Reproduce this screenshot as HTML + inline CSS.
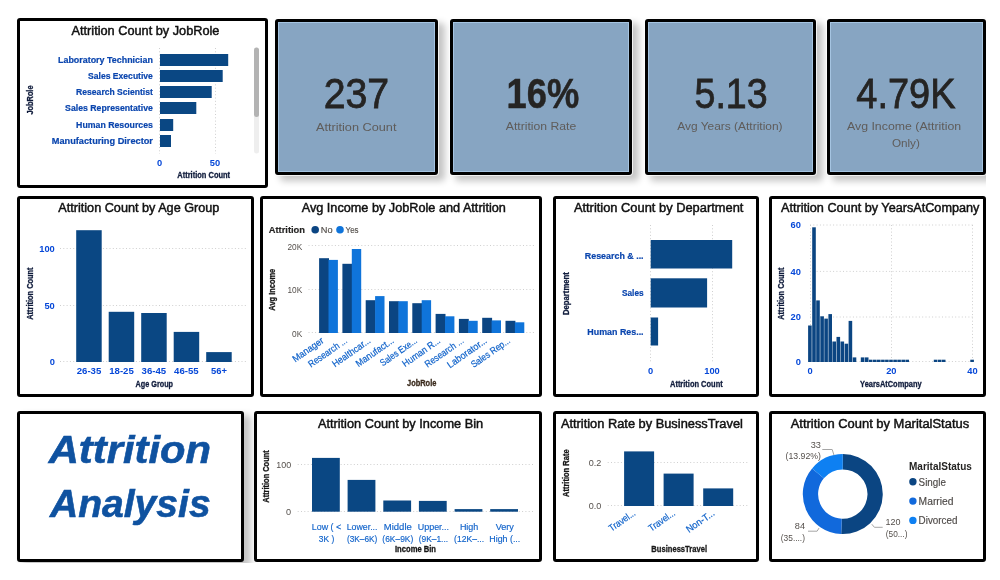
<!DOCTYPE html><html><head><meta charset="utf-8"><title>Attrition Analysis</title><style>
html,body{margin:0;padding:0;background:#fff;}
body{width:1000px;height:580px;overflow:hidden;position:relative;font-family:"Liberation Sans",sans-serif;}
#clip{position:absolute;left:0;top:0;width:986px;height:563px;overflow:hidden;}
.c{position:absolute;box-sizing:border-box;border:3px solid #000;border-radius:3px;background:#fff;}
.k{background:#87a5c2;box-shadow:inset 0 0 0 1px rgba(190,222,252,.55),0 0 0 1px rgba(255,255,255,.75),6px 5px 7px 1px rgba(0,0,0,.23);}
.t{box-shadow:6px 5px 7px 1px rgba(0,0,0,.23);}
svg{position:absolute;left:0;top:0;}
svg text{font-family:"Liberation Sans",sans-serif;}
.g{stroke:#cfcfcf;stroke-width:1;stroke-dasharray:1 2.3;}
</style></head><body><div id="clip">
<div class="c t" style="left:17px;top:411px;width:226.5px;height:151px"></div>
<div class="c" style="left:17px;top:18px;width:251px;height:170px"></div>
<div class="c" style="left:17px;top:196px;width:237px;height:201px"></div>
<div class="c" style="left:260px;top:196px;width:282px;height:201px"></div>
<div class="c" style="left:553px;top:196px;width:206px;height:201px"></div>
<div class="c" style="left:769px;top:196px;width:217px;height:201px"></div>
<div class="c" style="left:254px;top:411px;width:288px;height:151px"></div>
<div class="c" style="left:553px;top:411px;width:206px;height:151px"></div>
<div class="c" style="left:769px;top:411px;width:217px;height:151px"></div>
<div class="c k" style="left:275px;top:19px;width:163px;height:156px"></div>
<div class="c k" style="left:450px;top:19px;width:182px;height:156px"></div>
<div class="c k" style="left:644.5px;top:19px;width:171.5px;height:156px"></div>
<div class="c k" style="left:827px;top:19px;width:159px;height:156px"></div>
</div>
<svg width="1000" height="580" viewBox="0 0 1000 580">
<text x="71.5" y="34.6" font-size="12.3" fill="#111111" textLength="147.9" lengthAdjust="spacingAndGlyphs" stroke="#111111" stroke-width="0.45">Attrition Count by JobRole</text>
<line x1="159.5" y1="48.0" x2="159.5" y2="154.0" class="g"/>
<line x1="215.5" y1="48.0" x2="215.5" y2="154.0" class="g"/>
<rect x="160.0" y="54.0" width="68.2" height="12.0" fill="#0a4783"/>
<text x="152.9" y="63.4" font-size="9.9" font-weight="bold" text-anchor="end" fill="#0a45ae" textLength="94.9" lengthAdjust="spacingAndGlyphs" stroke="#0a45ae" stroke-width="0.2">Laboratory Technician</text>
<rect x="160.0" y="70.0" width="62.7" height="12.0" fill="#0a4783"/>
<text x="152.9" y="79.4" font-size="9.9" font-weight="bold" text-anchor="end" fill="#0a45ae" textLength="64.8" lengthAdjust="spacingAndGlyphs" stroke="#0a45ae" stroke-width="0.2">Sales Executive</text>
<rect x="160.0" y="86.0" width="51.7" height="12.0" fill="#0a4783"/>
<text x="152.9" y="95.4" font-size="9.9" font-weight="bold" text-anchor="end" fill="#0a45ae" textLength="76.8" lengthAdjust="spacingAndGlyphs" stroke="#0a45ae" stroke-width="0.2">Research Scientist</text>
<rect x="160.0" y="102.0" width="36.3" height="12.0" fill="#0a4783"/>
<text x="152.9" y="111.4" font-size="9.9" font-weight="bold" text-anchor="end" fill="#0a45ae" textLength="87.8" lengthAdjust="spacingAndGlyphs" stroke="#0a45ae" stroke-width="0.2">Sales Representative</text>
<rect x="160.0" y="119.0" width="13.2" height="12.0" fill="#0a4783"/>
<text x="152.9" y="128.4" font-size="9.9" font-weight="bold" text-anchor="end" fill="#0a45ae" textLength="76.8" lengthAdjust="spacingAndGlyphs" stroke="#0a45ae" stroke-width="0.2">Human Resources</text>
<rect x="160.0" y="135.0" width="11.0" height="12.0" fill="#0a4783"/>
<text x="152.9" y="144.4" font-size="9.9" font-weight="bold" text-anchor="end" fill="#0a45ae" textLength="101.1" lengthAdjust="spacingAndGlyphs" stroke="#0a45ae" stroke-width="0.2">Manufacturing Director</text>
<text x="159.7" y="166.0" font-size="9.3" font-weight="bold" text-anchor="middle" fill="#0648d8">0</text>
<text x="215.0" y="166.0" font-size="9.3" font-weight="bold" text-anchor="middle" fill="#0648d8">50</text>
<text x="177.3" y="178.0" font-size="8.5" font-weight="bold" fill="#101c3c" textLength="52.8" lengthAdjust="spacingAndGlyphs" stroke="#101c3c" stroke-width="0.3">Attrition Count</text>
<text x="33.0" y="100.0" font-size="8.5" font-weight="bold" text-anchor="middle" fill="#101c3c" textLength="29.0" lengthAdjust="spacingAndGlyphs" transform="rotate(-90 33.0 100.0)" stroke="#101c3c" stroke-width="0.3">JobRole</text>
<rect x="254.0" y="47.5" width="5.0" height="106.0" fill="#eeeeee" rx="2.5"/>
<rect x="254.0" y="47.5" width="5.0" height="69.5" fill="#b3b3b3" rx="2.5"/>
<text x="356.4" y="108.3" font-size="42.5" text-anchor="middle" fill="#252423" textLength="65.5" lengthAdjust="spacingAndGlyphs" stroke="#252423" stroke-width="0.8">237</text>
<text x="356.2" y="130.6" font-size="11.2" text-anchor="middle" fill="#5f5c5a" textLength="80.5" lengthAdjust="spacingAndGlyphs">Attrition Count</text>
<text x="542.9" y="108.3" font-size="42.5" font-weight="bold" text-anchor="middle" fill="#252423" textLength="72.7" lengthAdjust="spacingAndGlyphs" stroke="#252423" stroke-width="0.5">16%</text>
<text x="541.0" y="129.9" font-size="11.2" text-anchor="middle" fill="#5f5c5a" textLength="70.5" lengthAdjust="spacingAndGlyphs">Attrition Rate</text>
<text x="731.1" y="108.3" font-size="42.5" text-anchor="middle" fill="#252423" textLength="73.1" lengthAdjust="spacingAndGlyphs" stroke="#252423" stroke-width="0.8">5.13</text>
<text x="729.9" y="129.9" font-size="11.2" text-anchor="middle" fill="#5f5c5a" textLength="105.3" lengthAdjust="spacingAndGlyphs">Avg Years (Attrition)</text>
<text x="905.9" y="108.3" font-size="42.5" text-anchor="middle" fill="#252423" textLength="99.1" lengthAdjust="spacingAndGlyphs" stroke="#252423" stroke-width="0.8">4.79K</text>
<text x="904.1" y="129.9" font-size="11.2" text-anchor="middle" fill="#5f5c5a" textLength="114.2" lengthAdjust="spacingAndGlyphs">Avg Income (Attrition</text>
<text x="905.9" y="146.7" font-size="11.2" text-anchor="middle" fill="#5f5c5a" textLength="28.0" lengthAdjust="spacingAndGlyphs">Only)</text>
<text x="58.3" y="212.2" font-size="12.3" fill="#111111" textLength="161.1" lengthAdjust="spacingAndGlyphs" stroke="#111111" stroke-width="0.45">Attrition Count by Age Group</text>
<line x1="60.0" y1="361.5" x2="248.0" y2="361.5" class="g"/>
<text x="54.8" y="365.1" font-size="9.3" font-weight="bold" text-anchor="end" fill="#0648d8">0</text>
<line x1="60.0" y1="305.5" x2="248.0" y2="305.5" class="g"/>
<text x="54.8" y="308.6" font-size="9.3" font-weight="bold" text-anchor="end" fill="#0648d8">50</text>
<line x1="60.0" y1="248.5" x2="248.0" y2="248.5" class="g"/>
<text x="54.8" y="252.1" font-size="9.3" font-weight="bold" text-anchor="end" fill="#0648d8">100</text>
<rect x="76.2" y="230.2" width="25.5" height="131.8" fill="#0a4783"/>
<text x="89.0" y="373.9" font-size="9.5" font-weight="bold" text-anchor="middle" fill="#0648d8" textLength="24.6" lengthAdjust="spacingAndGlyphs">26-35</text>
<rect x="108.7" y="311.8" width="25.5" height="50.2" fill="#0a4783"/>
<text x="121.5" y="373.9" font-size="9.5" font-weight="bold" text-anchor="middle" fill="#0648d8" textLength="24.6" lengthAdjust="spacingAndGlyphs">18-25</text>
<rect x="141.2" y="313.0" width="25.5" height="49.0" fill="#0a4783"/>
<text x="153.9" y="373.9" font-size="9.5" font-weight="bold" text-anchor="middle" fill="#0648d8" textLength="24.6" lengthAdjust="spacingAndGlyphs">36-45</text>
<rect x="173.7" y="331.9" width="25.5" height="30.1" fill="#0a4783"/>
<text x="186.4" y="373.9" font-size="9.5" font-weight="bold" text-anchor="middle" fill="#0648d8" textLength="24.6" lengthAdjust="spacingAndGlyphs">46-55</text>
<rect x="206.2" y="352.1" width="25.5" height="9.9" fill="#0a4783"/>
<text x="218.9" y="373.9" font-size="9.5" font-weight="bold" text-anchor="middle" fill="#0648d8" textLength="16.0" lengthAdjust="spacingAndGlyphs">56+</text>
<text x="154.3" y="386.8" font-size="8.5" font-weight="bold" text-anchor="middle" fill="#101c3c" textLength="37.5" lengthAdjust="spacingAndGlyphs" stroke="#101c3c" stroke-width="0.3">Age Group</text>
<text x="32.6" y="293.6" font-size="8.5" font-weight="bold" text-anchor="middle" fill="#101c3c" textLength="52.4" lengthAdjust="spacingAndGlyphs" transform="rotate(-90 32.6 293.6)" stroke="#101c3c" stroke-width="0.3">Attrition Count</text>
<text x="301.7" y="212.2" font-size="12.3" fill="#111111" textLength="204.2" lengthAdjust="spacingAndGlyphs" stroke="#111111" stroke-width="0.45">Avg Income by JobRole and Attrition</text>
<text x="268.7" y="232.8" font-size="9.2" font-weight="bold" fill="#252423" textLength="36.3" lengthAdjust="spacingAndGlyphs" stroke="#252423" stroke-width="0.15">Attrition</text>
<circle cx="315.2" cy="229.8" r="3.8" fill="#0b4582"/>
<text x="320.8" y="232.8" font-size="9.2" fill="#55504c" textLength="11.8" lengthAdjust="spacingAndGlyphs" stroke="#55504c" stroke-width="0.15">No</text>
<circle cx="340" cy="229.8" r="3.8" fill="#0f74da"/>
<text x="345.6" y="232.8" font-size="9.2" fill="#55504c" textLength="13.0" lengthAdjust="spacingAndGlyphs" stroke="#55504c" stroke-width="0.15">Yes</text>
<line x1="308.5" y1="332.5" x2="534.0" y2="332.5" class="g"/>
<text x="302.2" y="336.9" font-size="9.2" text-anchor="end" fill="#55504c" textLength="10.2" lengthAdjust="spacingAndGlyphs">0K</text>
<line x1="308.5" y1="289.5" x2="534.0" y2="289.5" class="g"/>
<text x="302.2" y="293.4" font-size="9.2" text-anchor="end" fill="#55504c" textLength="14.8" lengthAdjust="spacingAndGlyphs">10K</text>
<line x1="308.5" y1="245.5" x2="534.0" y2="245.5" class="g"/>
<text x="302.2" y="249.9" font-size="9.2" text-anchor="end" fill="#55504c" textLength="14.8" lengthAdjust="spacingAndGlyphs">20K</text>
<rect x="319.1" y="258.2" width="9.9" height="74.8" fill="#0b4582"/>
<rect x="328.5" y="259.9" width="9.4" height="73.1" fill="#0f74da"/>
<text x="324.6" y="342.0" font-size="9.6" text-anchor="end" fill="#0f62ca" textLength="35.8" lengthAdjust="spacingAndGlyphs" transform="rotate(-35 324.6 342.0)" stroke="#0f62ca" stroke-width="0.2">Manager</text>
<rect x="342.4" y="263.8" width="9.9" height="69.2" fill="#0b4582"/>
<rect x="351.8" y="249.0" width="9.4" height="84.0" fill="#0f74da"/>
<text x="347.9" y="342.0" font-size="9.6" text-anchor="end" fill="#0f62ca" textLength="45.0" lengthAdjust="spacingAndGlyphs" transform="rotate(-35 347.9 342.0)" stroke="#0f62ca" stroke-width="0.2">Research ...</text>
<rect x="365.7" y="300.2" width="9.9" height="32.8" fill="#0b4582"/>
<rect x="375.1" y="296.1" width="9.4" height="36.9" fill="#0f74da"/>
<text x="371.2" y="342.0" font-size="9.6" text-anchor="end" fill="#0f62ca" textLength="44.3" lengthAdjust="spacingAndGlyphs" transform="rotate(-35 371.2 342.0)" stroke="#0f62ca" stroke-width="0.2">Healthcar...</text>
<rect x="389.0" y="301.2" width="9.9" height="31.8" fill="#0b4582"/>
<rect x="398.4" y="301.2" width="9.4" height="31.8" fill="#0f74da"/>
<text x="394.5" y="342.0" font-size="9.6" text-anchor="end" fill="#0f62ca" textLength="44.0" lengthAdjust="spacingAndGlyphs" transform="rotate(-35 394.5 342.0)" stroke="#0f62ca" stroke-width="0.2">Manufact...</text>
<rect x="412.3" y="303.2" width="9.9" height="29.8" fill="#0b4582"/>
<rect x="421.7" y="300.2" width="9.4" height="32.8" fill="#0f74da"/>
<text x="417.8" y="342.0" font-size="9.6" text-anchor="end" fill="#0f62ca" textLength="42.7" lengthAdjust="spacingAndGlyphs" transform="rotate(-35 417.8 342.0)" stroke="#0f62ca" stroke-width="0.2">Sales Exe...</text>
<rect x="435.6" y="313.9" width="9.9" height="19.1" fill="#0b4582"/>
<rect x="445.0" y="316.3" width="9.4" height="16.7" fill="#0f74da"/>
<text x="441.1" y="342.0" font-size="9.6" text-anchor="end" fill="#0f62ca" textLength="44.0" lengthAdjust="spacingAndGlyphs" transform="rotate(-35 441.1 342.0)" stroke="#0f62ca" stroke-width="0.2">Human R...</text>
<rect x="458.9" y="318.9" width="9.9" height="14.1" fill="#0b4582"/>
<rect x="468.3" y="320.8" width="9.4" height="12.2" fill="#0f74da"/>
<text x="464.4" y="342.0" font-size="9.6" text-anchor="end" fill="#0f62ca" textLength="45.0" lengthAdjust="spacingAndGlyphs" transform="rotate(-35 464.4 342.0)" stroke="#0f62ca" stroke-width="0.2">Research ...</text>
<rect x="482.2" y="317.8" width="9.9" height="15.2" fill="#0b4582"/>
<rect x="491.6" y="320.4" width="9.4" height="12.6" fill="#0f74da"/>
<text x="487.7" y="342.0" font-size="9.6" text-anchor="end" fill="#0f62ca" textLength="46.0" lengthAdjust="spacingAndGlyphs" transform="rotate(-35 487.7 342.0)" stroke="#0f62ca" stroke-width="0.2">Laborator...</text>
<rect x="505.5" y="320.8" width="9.9" height="12.2" fill="#0b4582"/>
<rect x="514.9" y="322.3" width="9.4" height="10.7" fill="#0f74da"/>
<text x="511.0" y="342.0" font-size="9.6" text-anchor="end" fill="#0f62ca" textLength="45.5" lengthAdjust="spacingAndGlyphs" transform="rotate(-35 511.0 342.0)" stroke="#0f62ca" stroke-width="0.2">Sales Rep...</text>
<text x="421.7" y="386.3" font-size="8.5" font-weight="bold" text-anchor="middle" fill="#3a2a1c" textLength="29.3" lengthAdjust="spacingAndGlyphs" stroke="#3a2a1c" stroke-width="0.3">JobRole</text>
<text x="275.5" y="289.7" font-size="8.5" font-weight="bold" text-anchor="middle" fill="#161616" textLength="41.9" lengthAdjust="spacingAndGlyphs" transform="rotate(-90 275.5 289.7)" stroke="#161616" stroke-width="0.3">Avg Income</text>
<text x="573.9" y="212.1" font-size="12.3" fill="#111111" textLength="169.5" lengthAdjust="spacingAndGlyphs" stroke="#111111" stroke-width="0.45">Attrition Count by Department</text>
<line x1="650.5" y1="225.0" x2="650.5" y2="362.5" class="g"/>
<line x1="712.5" y1="225.0" x2="712.5" y2="362.5" class="g"/>
<rect x="650.7" y="240.0" width="81.5" height="28.5" fill="#0a4783"/>
<text x="643.6" y="258.7" font-size="9.9" font-weight="bold" text-anchor="end" fill="#0a45ae" textLength="58.8" lengthAdjust="spacingAndGlyphs" stroke="#0a45ae" stroke-width="0.2">Research &amp; ...</text>
<rect x="650.7" y="278.3" width="56.4" height="29.2" fill="#0a4783"/>
<text x="643.6" y="296.0" font-size="9.9" font-weight="bold" text-anchor="end" fill="#0a45ae" textLength="21.6" lengthAdjust="spacingAndGlyphs" stroke="#0a45ae" stroke-width="0.2">Sales</text>
<rect x="650.7" y="317.5" width="7.4" height="28.0" fill="#0a4783"/>
<text x="643.6" y="334.6" font-size="9.9" font-weight="bold" text-anchor="end" fill="#0a45ae" textLength="56.3" lengthAdjust="spacingAndGlyphs" stroke="#0a45ae" stroke-width="0.2">Human Res...</text>
<text x="650.7" y="374.2" font-size="9.3" font-weight="bold" text-anchor="middle" fill="#0648d8">0</text>
<text x="712.0" y="374.2" font-size="9.3" font-weight="bold" text-anchor="middle" fill="#0648d8">100</text>
<text x="670.0" y="386.9" font-size="8.5" font-weight="bold" fill="#101c3c" textLength="52.7" lengthAdjust="spacingAndGlyphs" stroke="#101c3c" stroke-width="0.3">Attrition Count</text>
<text x="568.7" y="293.6" font-size="8.5" font-weight="bold" text-anchor="middle" fill="#101c3c" textLength="42.9" lengthAdjust="spacingAndGlyphs" transform="rotate(-90 568.7 293.6)" stroke="#101c3c" stroke-width="0.3">Department</text>
<text x="781.0" y="212.3" font-size="12.3" fill="#111111" textLength="198.4" lengthAdjust="spacingAndGlyphs" stroke="#111111" stroke-width="0.45">Attrition Count by YearsAtCompany</text>
<line x1="810" y1="361.5" x2="975" y2="361.5" class="g"/>
<text x="800.9" y="364.8" font-size="9.3" font-weight="bold" text-anchor="end" fill="#0648d8">0</text>
<line x1="810" y1="317" x2="975" y2="317" class="g"/>
<text x="800.9" y="320.3" font-size="9.3" font-weight="bold" text-anchor="end" fill="#0648d8">20</text>
<line x1="810" y1="271.4" x2="975" y2="271.4" class="g"/>
<text x="800.9" y="274.7" font-size="9.3" font-weight="bold" text-anchor="end" fill="#0648d8">40</text>
<line x1="810" y1="225" x2="975" y2="225" class="g"/>
<text x="800.9" y="228.3" font-size="9.3" font-weight="bold" text-anchor="end" fill="#0648d8">60</text>
<line x1="810.5" y1="225.0" x2="810.5" y2="362.0" class="g"/>
<line x1="891.5" y1="225.0" x2="891.5" y2="362.0" class="g"/>
<line x1="972.5" y1="225.0" x2="972.5" y2="362.0" class="g"/>
<rect x="808.1" y="325.5" width="3.6" height="36.5" fill="#0b4582"/>
<rect x="812.2" y="227.3" width="3.6" height="134.7" fill="#0b4582"/>
<rect x="816.2" y="300.4" width="3.6" height="61.6" fill="#0b4582"/>
<rect x="820.3" y="316.3" width="3.6" height="45.7" fill="#0b4582"/>
<rect x="824.3" y="318.6" width="3.6" height="43.4" fill="#0b4582"/>
<rect x="828.4" y="314.1" width="3.6" height="47.9" fill="#0b4582"/>
<rect x="832.4" y="341.5" width="3.6" height="20.5" fill="#0b4582"/>
<rect x="836.5" y="336.9" width="3.6" height="25.1" fill="#0b4582"/>
<rect x="840.5" y="341.5" width="3.6" height="20.5" fill="#0b4582"/>
<rect x="844.6" y="343.7" width="3.6" height="18.3" fill="#0b4582"/>
<rect x="848.6" y="320.9" width="3.6" height="41.1" fill="#0b4582"/>
<rect x="852.7" y="357.4" width="3.6" height="4.6" fill="#0b4582"/>
<rect x="860.8" y="357.4" width="3.6" height="4.6" fill="#0b4582"/>
<rect x="864.9" y="357.4" width="3.6" height="4.6" fill="#0b4582"/>
<rect x="868.9" y="359.7" width="3.6" height="2.3" fill="#0b4582"/>
<rect x="873.0" y="359.7" width="3.6" height="2.3" fill="#0b4582"/>
<rect x="877.0" y="359.7" width="3.6" height="2.3" fill="#0b4582"/>
<rect x="881.1" y="359.7" width="3.6" height="2.3" fill="#0b4582"/>
<rect x="885.1" y="359.7" width="3.6" height="2.3" fill="#0b4582"/>
<rect x="889.2" y="359.7" width="3.6" height="2.3" fill="#0b4582"/>
<rect x="893.3" y="359.7" width="3.6" height="2.3" fill="#0b4582"/>
<rect x="897.3" y="359.7" width="3.6" height="2.3" fill="#0b4582"/>
<rect x="901.4" y="359.7" width="3.6" height="2.3" fill="#0b4582"/>
<rect x="905.4" y="359.7" width="3.6" height="2.3" fill="#0b4582"/>
<rect x="933.8" y="359.7" width="3.6" height="2.3" fill="#0b4582"/>
<rect x="937.9" y="359.7" width="3.6" height="2.3" fill="#0b4582"/>
<rect x="941.9" y="359.7" width="3.6" height="2.3" fill="#0b4582"/>
<rect x="970.3" y="359.7" width="3.6" height="2.3" fill="#0b4582"/>
<text x="810.2" y="374.2" font-size="9.3" font-weight="bold" text-anchor="middle" fill="#0648d8">0</text>
<text x="891.3" y="374.2" font-size="9.3" font-weight="bold" text-anchor="middle" fill="#0648d8">20</text>
<text x="972.4" y="374.2" font-size="9.3" font-weight="bold" text-anchor="middle" fill="#0648d8">40</text>
<text x="860.1" y="386.6" font-size="8.5" font-weight="bold" fill="#101c3c" textLength="61.5" lengthAdjust="spacingAndGlyphs" stroke="#101c3c" stroke-width="0.3">YearsAtCompany</text>
<text x="784.3" y="293.6" font-size="8.5" font-weight="bold" text-anchor="middle" fill="#101c3c" textLength="52.4" lengthAdjust="spacingAndGlyphs" transform="rotate(-90 784.3 293.6)" stroke="#101c3c" stroke-width="0.3">Attrition Count</text>
<text x="48.7" y="463.1" font-size="39.5" font-weight="bold" font-style="italic" fill="#0f52a0" textLength="162.3" lengthAdjust="spacingAndGlyphs" stroke="#0f52a0" stroke-width="0.6">Attrition</text>
<text x="50.0" y="516.5" font-size="39.5" font-weight="bold" font-style="italic" fill="#0f52a0" textLength="160.6" lengthAdjust="spacingAndGlyphs" stroke="#0f52a0" stroke-width="0.6">Analysis</text>
<text x="317.9" y="427.9" font-size="12.3" fill="#111111" textLength="165.2" lengthAdjust="spacingAndGlyphs" stroke="#111111" stroke-width="0.45">Attrition Count by Income Bin</text>
<line x1="297.7" y1="511.5" x2="534.0" y2="511.5" class="g"/>
<text x="291.2" y="515.0" font-size="9.2" text-anchor="end" fill="#55504c" textLength="5.1" lengthAdjust="spacingAndGlyphs">0</text>
<line x1="297.7" y1="464.5" x2="534.0" y2="464.5" class="g"/>
<text x="291.2" y="468.2" font-size="9.2" text-anchor="end" fill="#55504c" textLength="14.9" lengthAdjust="spacingAndGlyphs">100</text>
<rect x="312.0" y="457.9" width="27.8" height="53.8" fill="#0a4783"/>
<text x="326.5" y="530.0" font-size="9.5" text-anchor="middle" fill="#0f62ca" textLength="29.5" lengthAdjust="spacingAndGlyphs" stroke="#0f62ca" stroke-width="0.15">Low ( &lt;</text>
<text x="326.5" y="542.1" font-size="9.5" text-anchor="middle" fill="#0f62ca" textLength="15.5" lengthAdjust="spacingAndGlyphs" stroke="#0f62ca" stroke-width="0.15">3K )</text>
<rect x="347.6" y="479.9" width="27.8" height="31.8" fill="#0a4783"/>
<text x="362.1" y="530.0" font-size="9.5" text-anchor="middle" fill="#0f62ca" textLength="30.8" lengthAdjust="spacingAndGlyphs" stroke="#0f62ca" stroke-width="0.15">Lower...</text>
<text x="362.1" y="542.1" font-size="9.5" text-anchor="middle" fill="#0f62ca" textLength="30.4" lengthAdjust="spacingAndGlyphs" stroke="#0f62ca" stroke-width="0.15">(3K–6K)</text>
<rect x="383.3" y="500.5" width="27.8" height="11.2" fill="#0a4783"/>
<text x="397.8" y="530.0" font-size="9.5" text-anchor="middle" fill="#0f62ca" textLength="28.0" lengthAdjust="spacingAndGlyphs" stroke="#0f62ca" stroke-width="0.15">Middle</text>
<text x="397.8" y="542.1" font-size="9.5" text-anchor="middle" fill="#0f62ca" textLength="30.9" lengthAdjust="spacingAndGlyphs" stroke="#0f62ca" stroke-width="0.15">(6K–9K)</text>
<rect x="418.9" y="500.9" width="27.8" height="10.8" fill="#0a4783"/>
<text x="433.4" y="530.0" font-size="9.5" text-anchor="middle" fill="#0f62ca" textLength="31.3" lengthAdjust="spacingAndGlyphs" stroke="#0f62ca" stroke-width="0.15">Upper...</text>
<text x="433.4" y="542.1" font-size="9.5" text-anchor="middle" fill="#0f62ca" textLength="29.4" lengthAdjust="spacingAndGlyphs" stroke="#0f62ca" stroke-width="0.15">(9K–1...</text>
<rect x="454.6" y="509.1" width="27.8" height="2.6" fill="#0a4783"/>
<text x="469.1" y="530.0" font-size="9.5" text-anchor="middle" fill="#0f62ca" textLength="18.4" lengthAdjust="spacingAndGlyphs" stroke="#0f62ca" stroke-width="0.15">High</text>
<text x="469.1" y="542.1" font-size="9.5" text-anchor="middle" fill="#0f62ca" textLength="30.1" lengthAdjust="spacingAndGlyphs" stroke="#0f62ca" stroke-width="0.15">(12K–...</text>
<rect x="490.2" y="509.1" width="27.8" height="2.6" fill="#0a4783"/>
<text x="504.8" y="530.0" font-size="9.5" text-anchor="middle" fill="#0f62ca" textLength="18.2" lengthAdjust="spacingAndGlyphs" stroke="#0f62ca" stroke-width="0.15">Very</text>
<text x="504.8" y="542.1" font-size="9.5" text-anchor="middle" fill="#0f62ca" textLength="31.0" lengthAdjust="spacingAndGlyphs" stroke="#0f62ca" stroke-width="0.15">High (...</text>
<text x="415.5" y="551.8" font-size="8.5" font-weight="bold" text-anchor="middle" fill="#161616" textLength="41.0" lengthAdjust="spacingAndGlyphs" stroke="#161616" stroke-width="0.3">Income Bin</text>
<text x="269.2" y="476.5" font-size="8.5" font-weight="bold" text-anchor="middle" fill="#161616" textLength="52.4" lengthAdjust="spacingAndGlyphs" transform="rotate(-90 269.2 476.5)" stroke="#161616" stroke-width="0.3">Attrition Count</text>
<text x="560.9" y="427.9" font-size="12.3" fill="#111111" textLength="182.0" lengthAdjust="spacingAndGlyphs" stroke="#111111" stroke-width="0.45">Attrition Rate by BusinessTravel</text>
<line x1="607.7" y1="505.5" x2="749.6" y2="505.5" class="g"/>
<text x="601.3" y="509.3" font-size="9.2" text-anchor="end" fill="#55504c" textLength="12.6" lengthAdjust="spacingAndGlyphs">0.0</text>
<line x1="607.7" y1="462.5" x2="749.6" y2="462.5" class="g"/>
<text x="601.3" y="465.8" font-size="9.2" text-anchor="end" fill="#55504c" textLength="12.6" lengthAdjust="spacingAndGlyphs">0.2</text>
<rect x="624.1" y="451.4" width="30.0" height="54.6" fill="#0a4783"/>
<text x="636.2" y="514.6" font-size="9.6" text-anchor="end" fill="#0f62ca" textLength="30.0" lengthAdjust="spacingAndGlyphs" transform="rotate(-35 636.2 514.6)" stroke="#0f62ca" stroke-width="0.2">Travel...</text>
<rect x="663.6" y="473.6" width="30.0" height="32.4" fill="#0a4783"/>
<text x="675.8" y="514.6" font-size="9.6" text-anchor="end" fill="#0f62ca" textLength="30.0" lengthAdjust="spacingAndGlyphs" transform="rotate(-35 675.8 514.6)" stroke="#0f62ca" stroke-width="0.2">Travel...</text>
<rect x="703.2" y="488.4" width="30.0" height="17.6" fill="#0a4783"/>
<text x="715.3" y="514.6" font-size="9.6" text-anchor="end" fill="#0f62ca" textLength="32.2" lengthAdjust="spacingAndGlyphs" transform="rotate(-35 715.3 514.6)" stroke="#0f62ca" stroke-width="0.2">Non-T...</text>
<text x="679.2" y="551.6" font-size="8.5" font-weight="bold" text-anchor="middle" fill="#1a1a1a" textLength="55.7" lengthAdjust="spacingAndGlyphs" stroke="#1a1a1a" stroke-width="0.3">BusinessTravel</text>
<text x="568.7" y="473.2" font-size="8.5" font-weight="bold" text-anchor="middle" fill="#161616" textLength="47.6" lengthAdjust="spacingAndGlyphs" transform="rotate(-90 568.7 473.2)" stroke="#161616" stroke-width="0.3">Attrition Rate</text>
<text x="790.7" y="427.9" font-size="12.3" fill="#111111" textLength="178.5" lengthAdjust="spacingAndGlyphs" stroke="#111111" stroke-width="0.45">Attrition Count by MaritalStatus</text>
<path d="M842.80 454.10A40 40 0 1 1 841.21 534.07L841.82 518.78A24.7 24.7 0 1 0 842.80 469.40Z" fill="#0b4582"/>
<path d="M841.21 534.07A40 40 0 0 1 812.10 468.46L823.84 478.26A24.7 24.7 0 0 0 841.82 518.78Z" fill="#1169dc"/>
<path d="M812.10 468.46A40 40 0 0 1 842.80 454.10L842.80 469.40A24.7 24.7 0 0 0 823.84 478.26Z" fill="#0e80f2"/>
<polyline points="822.3,449.5 832.2,449.5 834,455.2" fill="none" stroke="#a6a6a6" stroke-width="1"/>
<polyline points="871.8,524.2 874.4,527.3 882.7,527.3" fill="none" stroke="#a6a6a6" stroke-width="1"/>
<polyline points="808,531.2 817.1,531.2 819,528.1" fill="none" stroke="#a6a6a6" stroke-width="1"/>
<text x="815.8" y="447.6" font-size="9.9" text-anchor="middle" fill="#55504c" textLength="10.2" lengthAdjust="spacingAndGlyphs">33</text>
<text x="785.6" y="459.3" font-size="9.9" fill="#55504c" textLength="35.4" lengthAdjust="spacingAndGlyphs">(13.92%)</text>
<text x="885.6" y="524.9" font-size="9.9" fill="#55504c" textLength="15.0" lengthAdjust="spacingAndGlyphs">120</text>
<text x="885.8" y="536.9" font-size="9.9" fill="#55504c" textLength="21.6" lengthAdjust="spacingAndGlyphs">(50...)</text>
<text x="805.0" y="528.8" font-size="9.9" text-anchor="end" fill="#55504c" textLength="10.2" lengthAdjust="spacingAndGlyphs">84</text>
<text x="805.0" y="541.3" font-size="9.9" text-anchor="end" fill="#55504c" textLength="24.2" lengthAdjust="spacingAndGlyphs">(35....)</text>
<text x="909.0" y="469.6" font-size="10.4" font-weight="bold" fill="#252423" textLength="62.8" lengthAdjust="spacingAndGlyphs">MaritalStatus</text>
<circle cx="912.9" cy="481.8" r="3.7" fill="#0b4582"/>
<text x="918.6" y="485.6" font-size="10.6" fill="#4d4947" textLength="27.3" lengthAdjust="spacingAndGlyphs" stroke="#4d4947" stroke-width="0.15">Single</text>
<circle cx="912.9" cy="501.1" r="3.7" fill="#1169dc"/>
<text x="918.6" y="504.9" font-size="10.6" fill="#4d4947" textLength="34.9" lengthAdjust="spacingAndGlyphs" stroke="#4d4947" stroke-width="0.15">Married</text>
<circle cx="912.9" cy="520.4" r="3.7" fill="#0e80f2"/>
<text x="918.6" y="524.2" font-size="10.6" fill="#4d4947" textLength="38.8" lengthAdjust="spacingAndGlyphs" stroke="#4d4947" stroke-width="0.15">Divorced</text>
</svg></body></html>
